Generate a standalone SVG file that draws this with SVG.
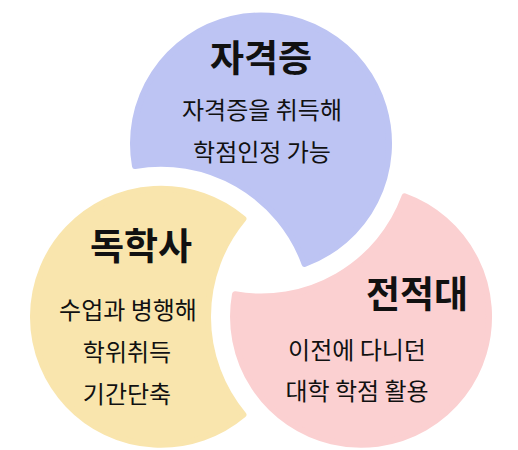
<svg xmlns="http://www.w3.org/2000/svg" width="518" height="450" viewBox="0 0 518 450">
<style>
.shape{stroke-width:6;stroke-linejoin:round}
.t{font-family:"Noto Sans CJK KR","Noto Sans",sans-serif;fill:#111;text-anchor:middle;dominant-baseline:central}
.title{font-size:37px;font-weight:700}
.body{font-size:24px}
</style>
<rect width="518" height="450" fill="#ffffff"/>
<g id="node-jagyeokjeung">
<path class="shape" fill="#BDC4F3" stroke="#BDC4F3" d="M134.98,165.93 A128,128 0 1 1 304.58,263.85 A153,153 0 0 0 134.98,165.93 Z"/>
<text class="t title" x="261" y="56">자격증</text>
<text class="t body" x="262" y="108">자격증을 취득해</text>
<text class="t body" x="262" y="150">학점인정 가능</text>
</g>
<g id="node-dokhaksa">
<path class="shape" fill="#F9E5AD" stroke="#F9E5AD" d="M243.41,414.67 A128,128 0 1 1 243.41,218.83 A153,153 0 0 0 243.41,414.67 Z"/>
<text class="t title" x="141" y="244">독학사</text>
<text class="t body" x="128" y="308">수업과 병행해</text>
<text class="t body" x="127" y="350">학위취득</text>
<text class="t body" x="127" y="392">기간단축</text>
</g>
<g id="node-jeonjeokdae">
<path class="shape" fill="#FBD0D1" stroke="#FBD0D1" d="M404.61,196.40 A128,128 0 1 1 235.01,294.32 A153,153 0 0 0 404.61,196.40 Z"/>
<text class="t title" x="417" y="292">전적대</text>
<text class="t body" x="357" y="348">이전에 다니던</text>
<text class="t body" x="357" y="389">대학 학점 활용</text>
</g>
<g id="connectors"></g>
</svg>
